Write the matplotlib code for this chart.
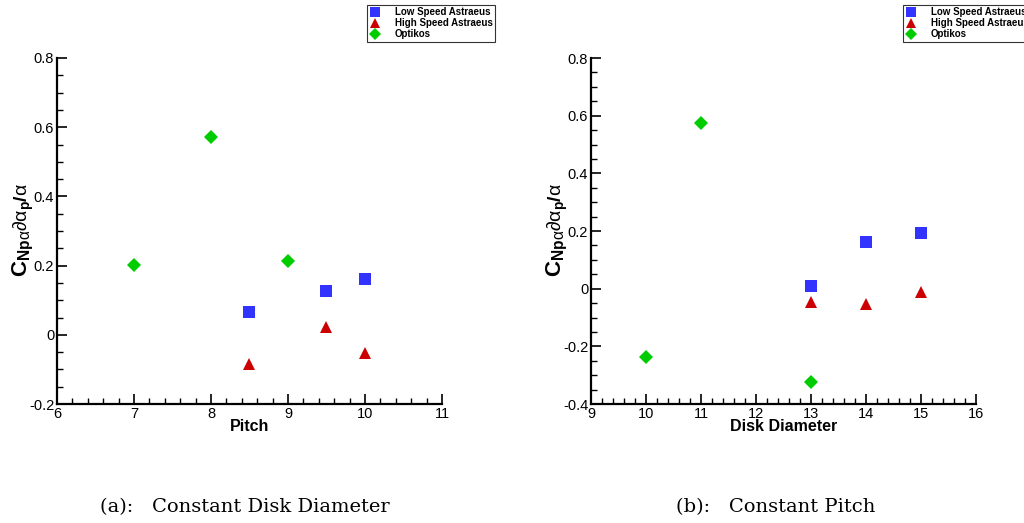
import matplotlib
matplotlib.use("Agg")
import matplotlib.pyplot as plt
from matplotlib.ticker import MultipleLocator

plt.rcParams['font.family'] = ['Liberation Sans', 'DejaVu Sans']
plt.rcParams['mathtext.fontset'] = 'custom'
plt.rcParams['mathtext.rm'] = 'Liberation Sans'
plt.rcParams['mathtext.bf'] = 'Liberation Sans:bold'
plt.rcParams['mathtext.it'] = 'Liberation Sans'

series_names = ["Low Speed Astraeus", "High Speed Astraeus", "Optikos"]

# Panel (a): constant disk diameter, vs pitch
a_low_x = [8.5, 9.5, 10]
a_low_y = [0.065, 0.128, 0.161]
a_high_x = [8.5, 9.5, 10]
a_high_y = [-0.083, 0.022, -0.053]
a_opt_x = [7, 8, 9]
a_opt_y = [0.201, 0.573, 0.212]

# Panel (b): constant pitch, vs disk diameter
b_low_x = [13, 14, 15]
b_low_y = [0.008, 0.163, 0.192]
b_high_x = [13, 14, 15]
b_high_y = [-0.045, -0.052, -0.013]
b_opt_x = [10, 11, 13]
b_opt_y = [-0.237, 0.573, -0.323]

colors = ["#3333FF", "#CC0000", "#00CC00"]
markers = ["s", "^", "D"]
msizes = [8, 8.5, 7.5]

W, H = 1024, 523
fig = plt.figure(figsize=(W/100, H/100), dpi=100)

ylabel_c = r"$\mathbf{C}_{\mathbf{Np}\mathrm{\alpha}}$"
ylabel_rest = r"$\mathrm{\partial\alpha}_{\mathbf{p}}\mathbf{/}\mathrm{\alpha}$"

def make_ax(rect, xlim, ylim, data, xlabel, caption, cap_x, legend_x):
    l, t, r, b = rect
    ax = fig.add_axes([l/W, 1-b/H, (r-l)/W, (b-t)/H])
    for (xs, ys), c, m, ms, name in zip(data, colors, markers, msizes, series_names):
        ax.plot(xs, ys, linestyle='none', marker=m, color=c, markersize=ms,
                markeredgewidth=0, label=name, clip_on=False)
    ax.set_xlim(*xlim)
    ax.set_ylim(*ylim)
    ax.xaxis.set_major_locator(MultipleLocator(1))
    ax.xaxis.set_minor_locator(MultipleLocator(0.2))
    ax.yaxis.set_major_locator(MultipleLocator(0.2))
    ax.yaxis.set_minor_locator(MultipleLocator(0.05))
    ax.yaxis.set_major_formatter(matplotlib.ticker.FuncFormatter(
        lambda v, p: "0" if abs(v) < 1e-9 else ("%g" % round(v, 2))))
    ax.spines['top'].set_visible(False)
    ax.spines['right'].set_visible(False)
    ax.spines['left'].set_linewidth(1.6)
    ax.spines['bottom'].set_linewidth(1.6)
    ax.tick_params(which='major', direction='in', length=7, width=1.2,
                   labelsize=10.5, pad=2, color='black')
    ax.tick_params(which='minor', direction='in', length=4, width=1.0)
    ax.set_xlabel(xlabel, fontsize=11.5, fontweight='bold', labelpad=-1)
    # y label in two parts (large bold C, smaller remainder)
    fig.text((l - 46)/W, 1 - 277/H, ylabel_c, fontsize=16, rotation=90,
             ha='left', va='bottom')
    fig.text((l - 45)/W, 1 - 231/H, ylabel_rest, fontsize=14, rotation=90,
             ha='left', va='bottom')
    fig.text(cap_x/W, 1-507/H, caption, fontsize=14, family=['DejaVu Serif'],
             ha='left', va='center')
    leg = fig.legend(*ax.get_legend_handles_labels(), loc='upper left',
                     bbox_to_anchor=(legend_x/W, 1-5/H),
                     prop={'weight': 'bold', 'size': 7}, frameon=True, fancybox=False,
                     edgecolor='black', borderpad=0.25, handletextpad=1.4,
                     labelspacing=0.1, markerscale=0.85, handlelength=1.2,
                     borderaxespad=0)
    leg.get_frame().set_linewidth(0.8)
    return ax

make_ax((57, 58, 442, 404), (6, 11), (-0.2, 0.8),
        [(a_low_x, a_low_y), (a_high_x, a_high_y), (a_opt_x, a_opt_y)],
        "Pitch", "(a):   Constant Disk Diameter", 100, 367)
make_ax((591, 58, 976, 404), (9, 16), (-0.4, 0.8),
        [(b_low_x, b_low_y), (b_high_x, b_high_y), (b_opt_x, b_opt_y)],
        "Disk Diameter", "(b):   Constant Pitch", 676, 903)

fig.savefig("out.png", dpi=100)
